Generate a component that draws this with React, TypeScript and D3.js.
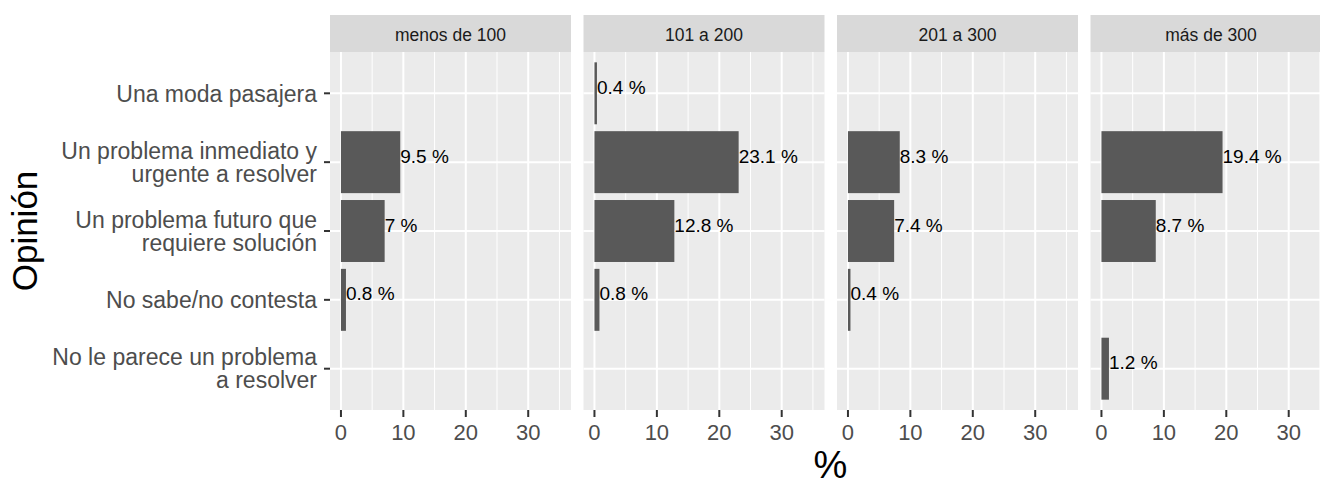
import React from "react";
import * as d3 from "d3";

const facets = ["menos de 100", "101 a 200", "201 a 300", "más de 300"];
const categories = [
  "Una moda pasajera",
  "Un problema inmediato y urgente a resolver",
  "Un problema futuro que requiere solución",
  "No sabe/no contesta",
  "No le parece un problema a resolver",
];
const categoryLines = [
  ["Una moda pasajera"],
  ["Un problema inmediato y", "urgente a resolver"],
  ["Un problema futuro que", "requiere solución"],
  ["No sabe/no contesta"],
  ["No le parece un problema", "a resolver"],
];
// values per facet, in category order (null = no bar)
const valuesMenos100 = [null, 9.5, 7, 0.8, null];
const values101a200 = [0.4, 23.1, 12.8, 0.8, null];
const values201a300 = [null, 8.3, 7.4, 0.4, null];
const valuesMas300 = [null, 19.4, 8.7, null, 1.2];
const facetValues = [valuesMenos100, values101a200, values201a300, valuesMas300];
const xTicks = [0, 10, 20, 30];
const xMinor = [5, 15, 25, 35];

const FONT = "'Liberation Sans', Arial, Helvetica, sans-serif";

export default function App() {
  const W = 1320;
  const H = 485;
  const panelTop = 52;
  const panelBottom = 410;
  const stripTop = 15;
  const panelW = 241;
  const panelLefts = [330, 583.5, 837, 1090.5];
  const dataMax = 35.1;
  const expand = dataMax * 0.05;

  const y = d3
    .scalePoint<string>()
    .domain(categories)
    .range([panelTop, panelBottom])
    .padding(0.6);
  const step = y.step();
  const barH = step * 0.9;

  const lineH = 23;

  return (
    <svg
      width={W}
      height={H}
      style={{ position: "absolute", left: 0, top: 0, background: "#fff" }}
      fontFamily={FONT}
    >
      <rect x={0} y={0} width={W} height={H} fill="#fff" />
      {/* y-axis labels and ticks */}
      {categories.map((c, i) => {
        const cy = y(c)!;
        const lines = categoryLines[i];
        const n = lines.length;
        return (
          <g key={c}>
            {lines.map((ln, j) => (
              <text
                key={j}
                x={317}
                y={cy + (j - (n - 1) / 2) * lineH + 8.2}
                textAnchor="end"
                fontSize={23}
                fill="#4D4D4D"
              >
                {ln}
              </text>
            ))}
            <line x1={324} x2={330} y1={cy} y2={cy} stroke="#333333" strokeWidth={2} />
          </g>
        );
      })}
      {facets.map((f, fi) => {
        const left = panelLefts[fi];
        const x = d3
          .scaleLinear()
          .domain([-expand, dataMax + expand])
          .range([left, left + panelW]);
        const vals = facetValues[fi];
        return (
          <g key={f}>
            {/* strip */}
            <rect x={left} y={stripTop} width={panelW} height={panelTop - stripTop} fill="#D9D9D9" />
            <text
              x={left + panelW / 2}
              y={40.7}
              textAnchor="middle"
              fontSize={17.5}
              fill="#1A1A1A"
            >
              {f}
            </text>
            {/* panel */}
            <rect x={left} y={panelTop} width={panelW} height={panelBottom - panelTop} fill="#EBEBEB" />
            {xMinor.map((t) => (
              <line key={"m" + t} x1={x(t)} x2={x(t)} y1={panelTop} y2={panelBottom} stroke="#fff" strokeWidth={1} />
            ))}
            {xTicks.map((t) => (
              <line key={"M" + t} x1={x(t)} x2={x(t)} y1={panelTop} y2={panelBottom} stroke="#fff" strokeWidth={2} />
            ))}
            {categories.map((c) => (
              <line key={"h" + c} x1={left} x2={left + panelW} y1={y(c)!} y2={y(c)!} stroke="#fff" strokeWidth={2} />
            ))}
            {/* bars */}
            {categories.map((c, i) => {
              const v = vals[i];
              if (v === null) return null;
              const cy = y(c)!;
              return (
                <g key={"b" + c}>
                  <rect
                    x={x(0)}
                    y={cy - barH / 2}
                    width={x(v) - x(0)}
                    height={barH}
                    fill="#595959"
                  />
                  <text x={x(v)} y={cy + 0.5} fontSize={19} fill="#000">
                    {`${v} %`}
                  </text>
                </g>
              );
            })}
            {/* x ticks */}
            {xTicks.map((t) => (
              <g key={"t" + t}>
                <line x1={x(t)} x2={x(t)} y1={panelBottom} y2={panelBottom + 7} stroke="#333333" strokeWidth={2} />
                <text x={x(t)} y={440} textAnchor="middle" fontSize={22} fill="#4D4D4D">
                  {t}
                </text>
              </g>
            ))}
          </g>
        );
      })}
      {/* axis titles */}
      <text x={830.5} y={478} textAnchor="middle" fontSize={38} fill="#000">
        %
      </text>
      <text
        transform={`translate(37, ${(panelTop + panelBottom) / 2}) rotate(-90)`}
        textAnchor="middle"
        fontSize={35}
        fill="#000"
      >
        Opinión
      </text>
    </svg>
  );
}
